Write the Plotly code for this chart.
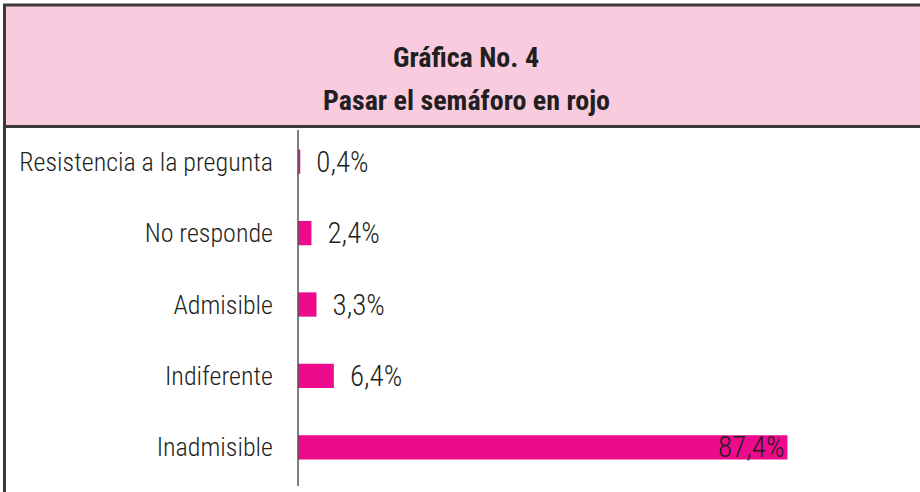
import plotly.graph_objects as go

categories = ["Resistencia a la pregunta", "No responde", "Admisible", "Indiferente", "Inadmisible"]
values = [0.4, 2.4, 3.3, 6.4, 87.4]
title_lines = ["Gráfica No. 4", "Pasar el semáforo en rojo"]

W, H = 920, 492
L, R, T, B = 298, 62, 126, 9
FONT = "Roboto Condensed, Liberation Sans Narrow, DejaVu Sans Condensed, sans-serif"
TEXT = "#231F20"
PINK = "#F9CBDF"
BAR = "#EE0A8C"
EDGE = "#3A3A3A"

pw, ph = W - L - R, H - T - B
def px(x):
    return (x - L) / pw
def py(y):
    return 1 - (y - T) / ph

labels = [f"{v:.1f}".replace(".", ",") + "%" for v in values]
positions = ["outside" if v < 50 else "inside" for v in values]
texts = [("  " + s) if p == "outside" else s for s, p in zip(labels, positions)]

fig = go.Figure(go.Bar(
    x=values, y=categories, orientation="h",
    marker=dict(color=BAR, line=dict(width=0)),
    text=texts, textposition=positions, insidetextanchor="end",
    textfont=dict(family=FONT, size=29, color=TEXT, weight=300),
    cliponaxis=False, width=0.34, constraintext="none",
))

shapes = [
    dict(type="rect", xref="paper", yref="paper", x0=px(4), x1=px(925), y0=py(5), y1=py(127),
         fillcolor=PINK, line=dict(width=0), layer="below"),
    dict(type="line", xref="paper", yref="paper", x0=px(3), x1=px(925), y0=py(5), y1=py(5),
         line=dict(color=EDGE, width=3)),
    dict(type="line", xref="paper", yref="paper", x0=px(3), x1=px(925), y0=py(126.5), y1=py(126.5),
         line=dict(color=EDGE, width=3)),
    dict(type="line", xref="paper", yref="paper", x0=px(4.5), x1=px(4.5), y0=py(4), y1=py(495),
         line=dict(color=EDGE, width=3)),
    dict(type="line", xref="paper", yref="paper", x0=0, x1=0, y0=py(130), y1=py(486),
         line=dict(color="#555555", width=1.5)),
]

annotations = [
    dict(xref="paper", yref="paper", x=px(466), y=py(57), text=title_lines[0], showarrow=False,
         font=dict(family=FONT, size=28, color=TEXT, weight="bold"), xanchor="center", yanchor="middle"),
    dict(xref="paper", yref="paper", x=px(466), y=py(100), text=title_lines[1], showarrow=False,
         font=dict(family=FONT, size=28, color=TEXT, weight="bold"), xanchor="center", yanchor="middle"),
]

fig.update_layout(
    width=W, height=H, margin=dict(l=L, r=R, t=T, b=B, autoexpand=False),
    paper_bgcolor="white", plot_bgcolor="white",
    showlegend=False, shapes=shapes, annotations=annotations,
    xaxis=dict(range=[0, 100], visible=False, fixedrange=True, automargin=False),
    yaxis=dict(autorange="reversed", showline=False, showgrid=False, zeroline=False,
               automargin=False, ticks="", ticklabelstandoff=24,
               tickfont=dict(family=FONT, size=26, color=TEXT, weight=300)),
)
fig.write_html("out.html", config={"displayModeBar": False},
               post_script="document.body.style.margin='0';")
